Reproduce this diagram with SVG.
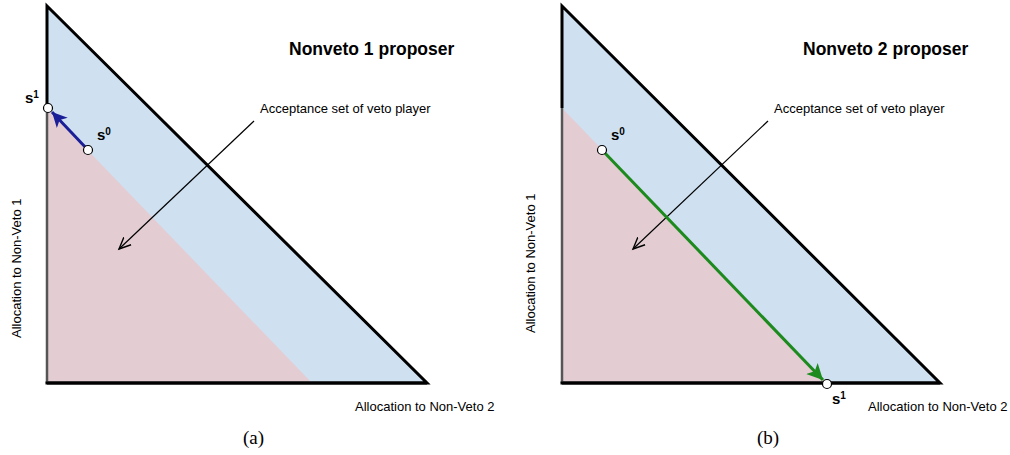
<svg xmlns="http://www.w3.org/2000/svg" width="1010" height="455" viewBox="0 0 1010 455">
<style>
.blue{fill:#cfe0f1;stroke:none}
.pink{fill:#e3cdd3;stroke:none}
.edge{fill:none;stroke:#000;stroke-width:3;stroke-linejoin:miter}
.lowedge{fill:none;stroke:#555;stroke-width:2.5}
.ptr{fill:none;stroke:#000;stroke-width:1.2}
.pt{fill:#fff;stroke:#000;stroke-width:1.2}
.title{font-family:"Liberation Sans",Arial,sans-serif;font-weight:bold;font-size:17.5px;fill:#000}
.lbl{font-family:"Liberation Sans",Arial,sans-serif;font-size:13px;fill:#000}
.ax{font-family:"Liberation Sans",Arial,sans-serif;font-size:13px;fill:#000}
.s{font-family:"Liberation Sans",Arial,sans-serif;font-weight:bold;font-size:15px;fill:#000}
.cap{font-family:"Liberation Serif","Times New Roman",serif;font-size:19px;fill:#000}
</style>
<defs>
<marker id="open" markerUnits="userSpaceOnUse" markerWidth="14" markerHeight="14" refX="10" refY="5" orient="auto" viewBox="0 0 12 10">
<path d="M0,0.5 L10,5 L0,9.5" fill="none" stroke="#000" stroke-width="1.2"/>
</marker>
<marker id="bhead" markerUnits="userSpaceOnUse" markerWidth="17" markerHeight="17" refX="15" refY="7.5" orient="auto" viewBox="0 0 17 15">
<path d="M0,0 L15,7.5 L0,15 L4,7.5 z" fill="#1b1f97"/>
</marker>
<marker id="ghead" markerUnits="userSpaceOnUse" markerWidth="18" markerHeight="18" refX="16" refY="8" orient="auto" viewBox="0 0 18 16">
<path d="M0,0 L16,8 L0,16 L4,8 z" fill="#1c8a1c"/>
</marker>
</defs>

<g id="panel-a">
<polygon class="blue" points="47,6 427,383 47,383"/>
<polygon class="pink" points="47,108 312,383 47,383"/>
<path class="edge" d="M47,108 L47,6 L427,383 L47,383"/>
<path class="lowedge" d="M47,108 L47,383"/>
<path class="edge" d="M45.5,383 L427,383"/>
<text class="title" x="289" y="55">Nonveto 1 proposer</text>
<text class="lbl" x="260" y="113">Acceptance set of veto player</text>
<text class="ax" x="355" y="411">Allocation to Non-Veto 2</text>
<text class="ax" transform="translate(21,338) rotate(-90)">Allocation to Non-Veto 1</text>
<text class="cap" x="243" y="444">(a)</text>
</g>

<g id="panel-b">
<polygon class="blue" points="562,6 940,383 562,383"/>
<polygon class="pink" points="562,108 827,383 562,383"/>
<path class="edge" d="M562,108 L562,6 L940,383 L562,383"/>
<path class="lowedge" d="M562,108 L562,383"/>
<path class="edge" d="M560.5,383 L940,383"/>
<text class="title" x="803" y="55">Nonveto 2 proposer</text>
<text class="lbl" x="774" y="113">Acceptance set of veto player</text>
<text class="ax" x="868" y="411">Allocation to Non-Veto 2</text>
<text class="ax" transform="translate(535,333) rotate(-90)">Allocation to Non-Veto 1</text>
<text class="cap" x="757" y="444">(b)</text>
</g>

<g id="connectors">
<line class="ptr" x1="254" y1="121" x2="119" y2="249" marker-end="url(#open)"/>
<line class="ptr" x1="768" y1="121" x2="633" y2="249" marker-end="url(#open)"/>
<line x1="88" y1="150" x2="52" y2="112" stroke="#1b1f97" stroke-width="3" marker-end="url(#bhead)"/>
<line x1="602" y1="150" x2="823" y2="380" stroke="#1c8a1c" stroke-width="3" marker-end="url(#ghead)"/>
</g>

<g id="point-a-s1"><circle class="pt" cx="48" cy="108" r="4.5"/><text class="s" x="25" y="103">s<tspan font-size="10" dy="-5">1</tspan></text></g>
<g id="point-a-s0"><circle class="pt" cx="88" cy="150" r="4.5"/><text class="s" x="97" y="140">s<tspan font-size="10" dy="-5">0</tspan></text></g>
<g id="point-b-s0"><circle class="pt" cx="602" cy="150" r="4.5"/><text class="s" x="611" y="140">s<tspan font-size="10" dy="-5">0</tspan></text></g>
<g id="point-b-s1"><circle class="pt" cx="827" cy="384" r="4.5"/><text class="s" x="832" y="404">s<tspan font-size="10" dy="-5">1</tspan></text></g>
</svg>
